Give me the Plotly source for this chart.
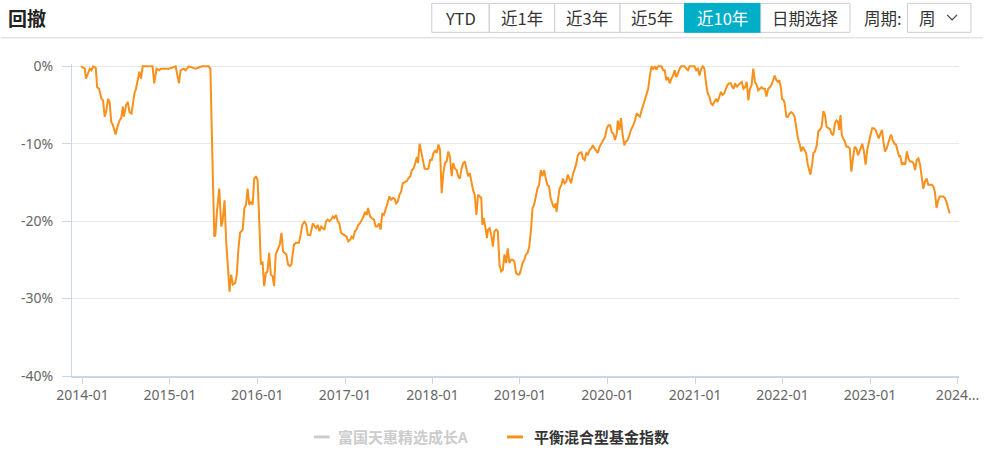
import pandas as pd
import plotly.graph_objects as go

# ---------------- data ----------------
years = [
    2013.983, 2014.028, 2014.040, 2014.066, 2014.085, 2014.104, 2014.123, 2014.153, 2014.168, 2014.191,
    2014.217, 2014.236, 2014.255, 2014.274, 2014.293, 2014.311, 2014.330, 2014.349, 2014.379, 2014.406,
    2014.425, 2014.444, 2014.462, 2014.474, 2014.500, 2014.519, 2014.538, 2014.561, 2014.576, 2014.595,
    2014.613, 2014.632, 2014.651, 2014.670, 2014.689, 2014.727, 2014.802, 2014.821, 2014.848, 2014.878,
    2014.897, 2014.953, 2014.991, 2015.066, 2015.085, 2015.104, 2015.123, 2015.161, 2015.180, 2015.217,
    2015.293, 2015.368, 2015.444, 2015.463, 2015.482, 2015.508,
    2015.520, 2015.538, 2015.565, 2015.587, 2015.603, 2015.625, 2015.644, 2015.663, 2015.682, 2015.701,
    2015.720, 2015.746, 2015.765, 2015.784, 2015.803, 2015.833, 2015.852, 2015.871, 2015.889, 2015.908,
    2015.927, 2015.946, 2015.965, 2015.984, 2016.003, 2016.022, 2016.040, 2016.059, 2016.078, 2016.097,
    2016.116, 2016.135, 2016.154, 2016.173, 2016.191, 2016.210, 2016.237, 2016.256, 2016.275, 2016.293,
    2016.312, 2016.331, 2016.350, 2016.369, 2016.388, 2016.418, 2016.444, 2016.474, 2016.493, 2016.512,
    2016.539, 2016.558, 2016.576, 2016.603, 2016.633, 2016.652, 2016.671, 2016.690, 2016.709, 2016.728,
    2016.746, 2016.765, 2016.784, 2016.803, 2016.822, 2016.841, 2016.860, 2016.878, 2016.897, 2016.916,
    2016.935, 2016.954, 2016.992,
    2017.018, 2017.037, 2017.060, 2017.075, 2017.094, 2017.112, 2017.131, 2017.150, 2017.169, 2017.192,
    2017.211, 2017.229, 2017.248, 2017.263, 2017.286, 2017.305, 2017.331, 2017.350, 2017.369, 2017.388,
    2017.407, 2017.426, 2017.445, 2017.463, 2017.490, 2017.509, 2017.528, 2017.547, 2017.566, 2017.584,
    2017.603, 2017.622, 2017.641, 2017.660, 2017.679, 2017.709, 2017.728, 2017.747, 2017.765, 2017.784,
    2017.803, 2017.822, 2017.834, 2017.852, 2017.871, 2017.890, 2017.909, 2017.935, 2017.954, 2017.973,
    2017.992, 2018.011, 2018.030, 2018.049, 2018.068, 2018.086, 2018.105, 2018.124, 2018.143, 2018.162,
    2018.181, 2018.200, 2018.219, 2018.237, 2018.256, 2018.275, 2018.294, 2018.313, 2018.332, 2018.351,
    2018.370, 2018.388, 2018.407, 2018.426, 2018.445, 2018.464, 2018.483,
    2018.502, 2018.521, 2018.540, 2018.558, 2018.570, 2018.585, 2018.604, 2018.623, 2018.634, 2018.653,
    2018.672, 2018.690, 2018.709, 2018.728, 2018.747, 2018.766, 2018.785, 2018.804, 2018.823, 2018.842,
    2018.860, 2018.879, 2018.898, 2018.917, 2018.936, 2018.955, 2018.974, 2018.993, 2019.011, 2019.030,
    2019.049, 2019.068, 2019.087, 2019.106, 2019.125, 2019.144, 2019.162, 2019.181, 2019.200, 2019.219,
    2019.238, 2019.257, 2019.276, 2019.295, 2019.313, 2019.332, 2019.351, 2019.370, 2019.389, 2019.408,
    2019.419, 2019.438, 2019.453, 2019.476, 2019.491, 2019.510, 2019.529, 2019.547, 2019.566, 2019.585,
    2019.604, 2019.623, 2019.642, 2019.661, 2019.680, 2019.702, 2019.721, 2019.740, 2019.759, 2019.778,
    2019.797, 2019.815, 2019.834, 2019.853, 2019.872, 2019.891, 2019.910, 2019.929, 2019.948, 2019.974,
    2019.993, 2020.012, 2020.031, 2020.050, 2020.068, 2020.087, 2020.106, 2020.118, 2020.136, 2020.155,
    2020.174, 2020.193, 2020.212, 2020.231, 2020.250, 2020.269, 2020.295, 2020.314, 2020.333, 2020.352,
    2020.370, 2020.389, 2020.408, 2020.427, 2020.446, 2020.465, 2020.484, 2020.503, 2020.522, 2020.540,
    2020.559, 2020.578, 2020.616, 2020.635, 2020.653, 2020.672, 2020.691, 2020.710, 2020.729, 2020.748,
    2020.767, 2020.786, 2020.804, 2020.823, 2020.842, 2020.880, 2020.899, 2020.918, 2020.937, 2020.993,
    2021.012, 2021.031, 2021.050, 2021.069, 2021.088, 2021.106, 2021.125, 2021.144, 2021.163, 2021.182,
    2021.201, 2021.220, 2021.238, 2021.257, 2021.276, 2021.295, 2021.314, 2021.333, 2021.352, 2021.371,
    2021.390, 2021.408, 2021.427,
    2021.439, 2021.458, 2021.476, 2021.495, 2021.514, 2021.533, 2021.552, 2021.571, 2021.590, 2021.609,
    2021.627, 2021.646, 2021.665, 2021.684, 2021.703, 2021.722, 2021.741, 2021.760, 2021.778, 2021.797,
    2021.816, 2021.835, 2021.854, 2021.873, 2021.892, 2021.911, 2021.929, 2021.948, 2021.963, 2021.982,
    2021.994, 2022.013, 2022.024, 2022.043, 2022.062, 2022.080, 2022.099, 2022.118, 2022.137, 2022.156,
    2022.175, 2022.194, 2022.213, 2022.231, 2022.250, 2022.269, 2022.288, 2022.303, 2022.318, 2022.337,
    2022.352, 2022.371, 2022.390, 2022.409, 2022.428, 2022.447, 2022.466, 2022.485, 2022.503, 2022.522,
    2022.541, 2022.560, 2022.579, 2022.598, 2022.617, 2022.635, 2022.647, 2022.662, 2022.677, 2022.692,
    2022.711, 2022.730, 2022.749, 2022.768, 2022.786, 2022.805, 2022.824, 2022.843, 2022.862, 2022.880,
    2022.899,
    2022.911, 2022.930, 2022.949, 2022.968, 2022.986, 2023.005, 2023.024, 2023.043, 2023.062, 2023.081,
    2023.100, 2023.119, 2023.137, 2023.152, 2023.171, 2023.190, 2023.209, 2023.228, 2023.239, 2023.258,
    2023.277, 2023.296, 2023.315, 2023.334, 2023.345, 2023.364, 2023.383, 2023.402, 2023.421, 2023.439,
    2023.458, 2023.477, 2023.496, 2023.515, 2023.534, 2023.553, 2023.572, 2023.590, 2023.609, 2023.628,
    2023.647, 2023.666, 2023.685, 2023.704, 2023.723, 2023.741, 2023.760, 2023.779, 2023.798, 2023.817,
    2023.836, 2023.855, 2023.874, 2023.892, 2023.911,
]

drawdown = [
    0.0, -0.3, -1.6, -0.7, -0.3, -0.5, 0.0, -0.2, -2.7, -2.9,
    -4.2, -4.4, -6.5, -5.7, -4.2, -4.6, -7.2, -7.6, -8.8, -7.6,
    -7.0, -6.7, -5.2, -6.5, -5.0, -4.6, -5.9, -6.1, -5.0, -3.5,
    -2.9, -2.0, -0.7, -1.6, 0.0, 0.0, 0.0, -2.2, -0.3, -0.5,
    -0.3, -0.3, -0.3, 0.0, -1.2, -2.2, -0.5, -0.3, -0.5, 0.0,
    -0.3, 0.0, 0.0, -0.3, -9.7, -22.0,
    -21.8, -18.8, -15.8, -20.7, -20.0, -17.3, -22.6, -26.5, -29.1, -26.9,
    -28.2, -28.0, -26.9, -23.5, -21.5, -21.1, -18.3, -17.9, -15.8, -17.9,
    -17.5, -17.9, -14.5, -14.2, -14.7, -20.0, -25.6, -25.2, -28.4, -26.7,
    -26.5, -24.1, -26.9, -27.1, -28.4, -24.3, -23.5, -23.0, -21.5, -23.9,
    -24.1, -24.3, -25.6, -25.8, -25.6, -23.0, -22.8, -22.8, -21.8, -20.5,
    -20.0, -20.5, -21.8, -21.8, -20.3, -20.7, -20.9, -20.5, -21.3, -20.7,
    -20.9, -21.1, -20.0, -19.8, -20.0, -19.8, -19.4, -19.6, -19.2, -20.0,
    -20.3, -21.5, -21.8,
    -22.0, -22.6, -22.4, -22.0, -22.2, -21.3, -21.1, -20.5, -20.3, -19.8,
    -19.4, -18.8, -19.2, -18.3, -19.4, -19.6, -19.8, -20.7, -20.7, -20.3,
    -21.1, -19.0, -19.2, -18.5, -17.5, -16.8, -17.3, -17.0, -17.1, -17.7,
    -17.5, -16.6, -16.2, -15.1, -15.0, -14.8, -14.4, -14.2, -13.4, -13.2,
    -12.5, -11.7, -12.5, -10.0, -11.0, -12.3, -13.2, -13.3, -13.2, -12.1,
    -12.1, -11.2, -10.9, -11.2, -10.1, -10.8, -16.4, -13.8, -12.5, -12.3,
    -11.0, -11.7, -14.2, -12.5, -13.2, -13.4, -14.2, -14.5, -13.2, -12.5,
    -12.3, -13.2, -14.2, -13.8, -15.1, -16.0, -16.6,
    -19.2, -16.6, -16.8, -17.0, -20.5, -19.6, -20.7, -22.2, -21.1, -20.9,
    -21.8, -23.3, -21.3, -21.1, -21.3, -25.6, -26.5, -26.3, -24.3, -25.4,
    -23.5, -25.4, -25.0, -25.0, -25.2, -26.7, -26.9, -26.9, -26.3, -25.4,
    -25.0, -24.3, -24.1, -23.3, -21.3, -18.3, -17.9, -16.6, -15.8, -15.3,
    -13.4, -14.2, -13.4, -14.5, -15.3, -15.5, -17.0, -17.7, -18.3, -17.7,
    -18.8, -17.0, -15.8, -15.3, -14.5, -15.1, -14.9, -14.0, -14.7, -15.1,
    -14.0, -13.2, -12.7, -11.5, -11.2, -11.1, -11.9, -12.1, -11.2, -11.4,
    -10.8, -10.6, -10.2, -10.6, -11.0, -11.2, -10.4, -10.0, -9.5, -9.1,
    -8.0, -7.6, -7.6, -8.5, -8.7, -9.5, -8.7, -7.0, -8.2, -6.7,
    -8.9, -10.2, -9.7, -9.5, -8.9, -8.2, -7.6, -7.0, -6.1, -6.3,
    -6.5, -5.7, -5.0, -4.4, -3.5, -2.9, -1.2, 0.0, -0.4, 0.0,
    -0.4, 0.0, 0.0, -0.5, -0.5, -1.8, -1.4, -2.2, -1.6, -1.2,
    -0.5, -1.4, -0.9, -0.3, 0.0, 0.0, -0.3, -0.5, 0.0, 0.0,
    -0.5, -0.3, -1.2, -0.3, 0.0, -0.3, -2.2, -3.5, -3.9, -4.8,
    -5.0, -4.6, -4.2, -4.6, -3.9, -3.3, -3.7, -3.5, -2.9, -2.4,
    -2.2, -2.2, -2.7,
    -2.9, -2.2, -2.7, -2.4, -2.2, -2.0, -2.9, -2.7, -2.0, -4.4,
    -2.9, -2.4, -0.3, -2.0, -2.4, -3.1, -2.9, -2.7, -2.9, -2.9,
    -3.9, -2.9, -2.7, -2.4, -1.8, -1.2, -1.8, -2.0, -1.8, -2.9,
    -4.2, -4.4, -4.8, -6.5, -6.5, -6.1, -5.9, -6.1, -6.5, -8.0,
    -9.3, -10.0, -11.0, -10.4, -10.8, -11.2, -12.7, -13.4, -14.0, -12.7,
    -11.2, -11.0, -10.2, -8.4, -8.2, -7.8, -5.8, -6.3, -7.8, -8.0,
    -8.1, -8.7, -8.9, -7.4, -7.0, -7.2, -8.2, -6.3, -8.9, -9.3,
    -9.7, -10.4, -10.4, -10.6, -13.6, -11.9, -10.4, -10.6, -11.5, -11.0,
    -10.2,
    -10.0, -11.0, -12.7, -10.8, -9.7, -8.9, -8.0, -8.0, -8.2, -8.7,
    -9.3, -8.7, -8.2, -9.7, -11.0, -10.6, -10.0, -9.3, -8.8, -9.5,
    -10.0, -10.1, -11.0, -11.7, -11.5, -12.7, -12.5, -12.7, -11.0, -11.9,
    -12.3, -12.3, -12.5, -13.4, -12.1, -11.9, -12.7, -14.5, -15.8, -14.9,
    -14.5, -15.3, -15.3, -15.3, -15.5, -16.2, -18.3, -17.3, -16.8, -16.8,
    -16.8, -17.0, -17.5, -18.3, -19.0,
]

tick_years = [2014, 2015, 2016, 2017, 2018, 2019, 2020, 2021, 2022, 2023, 2024]
tick_labels = ["2014-01", "2015-01", "2016-01", "2017-01", "2018-01", "2019-01",
               "2020-01", "2021-01", "2022-01", "2023-01", "2024..."]
y_ticks = [0, -10, -20, -30, -40]
y_labels = ["0%", "-10%", "-20%", "-30%", "-40%"]

series_names = ["富国天惠精选成长A", "平衡混合型基金指数"]
buttons = ["YTD", "近1年", "近3年", "近5年", "近10年", "日期选择"]
active_button = "近10年"


def to_date(y):
    yr = int(y)
    start = pd.Timestamp(yr, 1, 1)
    end = pd.Timestamp(yr + 1, 1, 1)
    return start + (end - start) * (y - yr)


dates = [to_date(y) for y in years]

# ---------------- styling ----------------
ORANGE = "#f8901c"
TEAL = "#00aec8"
AXIS = "#ccd6eb"
GRID = "#e8e8e8"
CJK = "Noto Sans CJK SC"

W_FIG, H_FIG = 991, 456
L, R, T, B = 72, 967, 63.7, 376
PW, PH = R - L, B - T


def px(x):  # screen x -> paper
    return (x - L) / PW


def py(y):  # screen y -> paper
    return (B - y) / PH


fig = go.Figure()
fig.add_trace(go.Scatter(
    x=dates, y=drawdown, mode="lines", name=series_names[1],
    line=dict(color=ORANGE, width=2), showlegend=False, hoverinfo="skip",
))

shapes = []
annotations = []

# header
annotations.append(dict(text="<b>回撤</b>", x=px(5), y=py(17), xref="paper", yref="paper",
                        xanchor="left", yanchor="middle", showarrow=False,
                        font=dict(family=CJK, size=19, color="#222")))
shapes.append(dict(type="line", xref="paper", yref="paper", x0=px(0), x1=px(991),
                   y0=py(37.5), y1=py(37.5), line=dict(color="#d6d6d6", width=1)))

edges = [435, 493, 559, 625, 690, 767, 857]
for i, lab in enumerate(buttons):
    x0, x1 = edges[i], edges[i + 1]
    act = lab == active_button
    shapes.append(dict(type="rect", xref="paper", yref="paper", x0=px(x0), x1=px(x1),
                       y0=py(32), y1=py(3),
                       line=dict(color=TEAL if act else "#cccccc", width=1),
                       fillcolor=TEAL if act else "white", layer="above"))
    annotations.append(dict(text=lab, x=px((x0 + x1) / 2), y=py(17.5), xref="paper", yref="paper",
                            xanchor="center", yanchor="middle", showarrow=False,
                            font=dict(family=CJK, size=16.5, color="white" if act else "#333")))

annotations.append(dict(text="周期:", x=px(890), y=py(17.5), xref="paper", yref="paper",
                        xanchor="center", yanchor="middle", showarrow=False,
                        font=dict(family=CJK, size=16.5, color="#333")))
shapes.append(dict(type="rect", xref="paper", yref="paper", x0=px(915), x1=px(979),
                   y0=py(32), y1=py(3), line=dict(color="#cccccc", width=1), fillcolor="white"))
annotations.append(dict(text="周", x=px(935), y=py(17.5), xref="paper", yref="paper",
                        xanchor="center", yanchor="middle", showarrow=False,
                        font=dict(family=CJK, size=16.5, color="#333")))
shapes.append(dict(type="path", xref="paper", yref="paper",
                   path=f"M {px(955)},{py(14.5)} L {px(960)},{py(19.5)} L {px(965)},{py(14.5)}",
                   line=dict(color="#444", width=1.3)))

# legend (drawn manually to match the compact style)
leg_y = 437
shapes.append(dict(type="line", xref="paper", yref="paper", x0=px(316), x1=px(332),
                   y0=py(leg_y), y1=py(leg_y), line=dict(color="#cccccc", width=3)))
annotations.append(dict(text=series_names[0], x=px(338), y=py(leg_y), xref="paper", yref="paper",
                        xanchor="left", yanchor="middle", showarrow=False,
                        font=dict(family=CJK, size=15, color="#cccccc", weight=600)))
shapes.append(dict(type="line", xref="paper", yref="paper", x0=px(511), x1=px(527),
                   y0=py(leg_y), y1=py(leg_y), line=dict(color=ORANGE, width=3)))
annotations.append(dict(text=series_names[1], x=px(536), y=py(leg_y), xref="paper", yref="paper",
                        xanchor="left", yanchor="middle", showarrow=False,
                        font=dict(family=CJK, size=15, color="#333", weight=600)))

fig.update_layout(
    width=W_FIG, height=H_FIG,
    margin=dict(l=L, r=W_FIG - R, t=T, b=H_FIG - B, pad=0),
    paper_bgcolor="white", plot_bgcolor="white",
    showlegend=False, hovermode=False,
    shapes=shapes, annotations=annotations,
    font=dict(family="Noto Sans, " + CJK, size=14, color="#666"),
)
fig.update_xaxes(
    type="date", range=[to_date(2013.881), to_date(2024.017)],
    tickvals=[pd.Timestamp(y, 1, 1) for y in tick_years], ticktext=tick_labels,
    showgrid=False, showline=True, linecolor=AXIS, linewidth=1.5,
    ticks="outside", ticklen=6, tickcolor=AXIS, tickwidth=1,
    tickfont=dict(size=14, color="#666"), zeroline=False,
)
fig.update_yaxes(
    range=[-40, 0.3], tickvals=y_ticks, ticktext=y_labels,
    showgrid=True, gridcolor=GRID, gridwidth=1,
    showline=True, linecolor=AXIS, linewidth=1,
    ticks="outside", ticklen=9, tickcolor=AXIS, tickwidth=1,
    ticklabelstandoff=6,
    tickfont=dict(size=14, color="#666"), zeroline=False,
)

# remove the default page margin so the figure sits at the window's top-left corner
fig.write_html("out.html",
               config={"displayModeBar": False, "staticPlot": True},
               post_script="document.body.style.margin='0';document.body.style.overflow='hidden';")
